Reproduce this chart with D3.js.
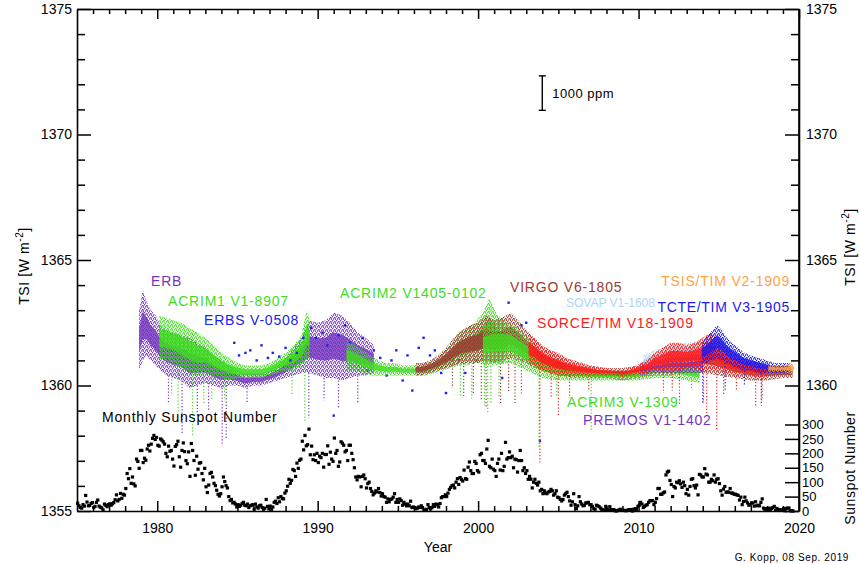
<!DOCTYPE html>
<html><head><meta charset="utf-8">
<script src="https://cdn.jsdelivr.net/npm/d3@7"></script>
<style>
body{margin:0;background:#fff}
svg text{font-family:"Liberation Sans",Arial,Helvetica,sans-serif}
</style>
</head><body>
<svg id="chart" width="859" height="564"></svg>
<script>
// ---------------- DATA ----------------
const xMajorTicks = [1980, 1990, 2000, 2010, 2020];
const yMajorTicks = [1355, 1360, 1365, 1370, 1375];
const yRightTicks = [1360, 1365, 1370, 1375];
const sunspotTicks = [0, 50, 100, 150, 200, 250, 300];

// Nimbus-7 ERB (scatter range, W m-2)
const erbYear = [1978.87,1979.1,1979.3,1979.6,1979.9,1980.2,1980.6,1981.0,1981.5,1982.0,1982.5,1983.0,1983.5,1984.0,1984.5,1985.0,1985.5,1986.0,1986.5,1987.0,1987.5,1988.0,1988.5,1989.0,1989.5,1990.0,1990.5,1991.0,1991.5,1992.0,1992.5,1993.0,1993.5];
const erbLo   = [1360.6,1361.0,1361.2,1361.0,1360.8,1360.6,1360.4,1360.3,1360.2,1359.9,1360.0,1360.1,1360.0,1359.9,1360.0,1360.0,1359.9,1360.0,1360.0,1360.1,1360.2,1360.3,1360.4,1360.5,1360.5,1360.4,1360.3,1360.3,1360.2,1360.3,1360.4,1360.4,1360.5];
const erbHi   = [1363.0,1363.8,1363.4,1363.0,1362.8,1362.4,1362.2,1362.1,1362.0,1361.9,1361.7,1361.5,1361.2,1361.0,1360.8,1360.6,1360.5,1360.5,1360.5,1360.6,1360.8,1361.1,1361.5,1361.9,1362.6,1362.5,1362.6,1362.9,1362.8,1362.5,1362.1,1361.9,1361.6];
const erbDips = [[1980.7,1360.4,1359.3],[1981.55,1360.2,1358.1],[1982.5,1360.0,1358.8],[1983.2,1360.1,1359.0],[1984.05,1359.9,1357.6],[1984.3,1360.0,1357.9],[1985.6,1359.9,1359.3],[1989.45,1360.5,1358.7],[1990.4,1360.3,1359.4],[1991.3,1360.2,1359.1],[1992.5,1360.4,1359.3]];

// ACRIM1
const acrim1Year = [1980.13,1980.5,1981.0,1981.5,1982.0,1982.5,1983.0,1983.5,1984.0,1984.5,1985.0,1985.5,1986.0,1986.5,1987.0,1987.5,1988.0,1988.5,1989.0,1989.3,1989.5];
const acrim1Lo   = [1361.0,1361.0,1360.9,1360.7,1360.5,1360.4,1360.5,1360.4,1360.3,1360.2,1360.3,1360.3,1360.3,1360.3,1360.4,1360.5,1360.6,1360.6,1360.8,1361.0,1361.2];
const acrim1Hi   = [1362.8,1362.7,1362.6,1362.5,1362.3,1362.1,1361.9,1361.6,1361.3,1361.1,1360.9,1360.8,1360.8,1360.8,1360.9,1361.1,1361.3,1361.6,1362.0,1363.0,1362.6];
const acrim1Dips = [[1980.9,1361.0,1359.6],[1981.3,1360.8,1358.9],[1982.2,1360.5,1358.0],[1982.9,1360.5,1359.3],[1983.4,1360.4,1359.4],[1984.2,1360.3,1359.4],[1988.4,1360.6,1359.6],[1989.2,1360.8,1358.6]];

// ERBS (sparse points)
const erbsYear = [1984.8,1985.1,1985.5,1985.8,1986.2,1986.5,1986.9,1987.2,1987.6,1988.0,1988.3,1988.7,1989.1,1989.6,1989.9,1990.3,1990.6,1991.0,1991.3,1991.7,1992.0,1992.4,1992.8,1993.1,1993.5,1993.9,1994.3,1994.6,1994.9,1995.3,1995.6,1995.9,1996.3,1996.6,1997.0,1997.3,1997.7,1998.0,1998.4,1998.8,1999.2,1999.5,1999.9,2000.3,2000.7,2001.2,2001.5,2001.9,2002.3,2002.7,2003.0,2003.4,2003.85];
const erbsTsi  = [1361.7,1361.2,1361.3,1361.4,1361.0,1361.6,1361.1,1361.3,1361.15,1361.5,1361.0,1361.3,1361.9,1362.3,1361.9,1362.1,1361.6,1358.8,1362.0,1362.4,1361.7,1361.0,1361.9,1360.6,1361.4,1361.1,1360.4,1361.0,1361.4,1360.2,1361.2,1359.8,1361.5,1361.9,1361.2,1361.4,1360.5,1359.7,1361.0,1361.0,1360.5,1361.7,1361.0,1361.7,1361.5,1362.1,1360.3,1363.3,1362.1,1362.4,1362.5,1361.5,1357.8];

// ACRIM2
const acrim2Year = [1991.8,1992.3,1992.8,1993.3,1993.8,1994.3,1994.8,1995.3,1995.8,1996.3,1996.8,1997.3,1997.8,1998.3,1998.8,1999.3,1999.8,2000.3,2000.7,2001.2,2001.7];
const acrim2Lo   = [1360.6,1360.6,1360.5,1360.4,1360.4,1360.4,1360.4,1360.4,1360.4,1360.4,1360.4,1360.5,1360.6,1360.7,1360.8,1360.8,1360.9,1360.9,1360.9,1360.9,1360.9];
const acrim2Hi   = [1361.8,1361.6,1361.4,1361.2,1361.0,1360.9,1360.9,1360.8,1360.8,1360.8,1360.9,1361.0,1361.3,1361.6,1362.1,1362.3,1362.5,1362.9,1363.5,1362.8,1362.6];
const acrim2Dips = [[1998.9,1360.8,1359.6],[1999.6,1360.8,1359.4],[2000.4,1360.9,1359.2],[2000.6,1360.9,1358.9],[2000.8,1360.9,1359.3],[2001.3,1360.9,1359.5]];

// VIRGO
const virgoYear = [1996.1,1996.5,1997.0,1997.5,1998.0,1998.5,1999.0,1999.5,2000.0,2000.5,2001.0,2001.5,2002.0,2002.5,2003.0,2003.5,2004.0,2005.0,2006.0,2007.0,2008.0,2009.0,2010.0,2011.0,2012.0,2013.0,2014.0,2015.0,2016.0,2017.0,2018.0,2019.0,2019.6];
const virgoLo   = [1360.4,1360.4,1360.5,1360.6,1360.7,1360.8,1360.9,1360.9,1360.9,1361.0,1360.9,1361.0,1361.1,1361.0,1360.9,1360.7,1360.6,1360.4,1360.3,1360.3,1360.3,1360.2,1360.3,1360.4,1360.4,1360.5,1360.5,1360.4,1360.3,1360.2,1360.2,1360.3,1360.3];
const virgoHi   = [1360.9,1360.9,1361.0,1361.2,1361.5,1361.9,1362.2,1362.4,1362.5,1362.8,1362.6,1362.7,1362.9,1362.6,1362.2,1361.9,1361.5,1361.2,1360.9,1360.8,1360.7,1360.7,1360.8,1361.2,1361.4,1361.5,1361.8,1361.6,1361.1,1360.9,1360.8,1360.7,1360.7];
const virgoDips = [[1998.4,1360.8,1359.9],[1999.1,1360.9,1359.5],[1999.7,1360.9,1359.7],[2000.2,1360.9,1359.4],[2000.5,1361.0,1359.1],[2001.4,1361.0,1359.3],[2001.9,1361.1,1359.7],[2002.3,1361.0,1359.3],[2002.7,1361.0,1359.6]];

// ACRIM3
const acrim3Year = [2000.3,2001.0,2002.0,2003.0,2004.0,2005.0,2006.0,2007.0,2008.0,2009.0,2010.0,2011.0,2012.0,2013.0,2013.8];
const acrim3Lo   = [1360.8,1360.8,1360.9,1360.6,1360.3,1360.2,1360.2,1360.2,1360.2,1360.2,1360.2,1360.3,1360.3,1360.2,1360.1];
const acrim3Hi   = [1362.4,1362.6,1362.5,1362.0,1361.2,1360.9,1360.8,1360.7,1360.6,1360.6,1360.7,1361.0,1361.1,1360.9,1360.8];
const acrim3Dips = [[2003.8,1360.4,1357.5],[2004.9,1360.3,1359.6],[2007.05,1360.2,1358.2],[2013.3,1360.2,1359.9]];

// PREMOS
const premosYear = [2010.1,2011.0,2012.0,2013.0,2014.0];
const premosLo   = [1360.4,1360.5,1360.5,1360.5,1360.5];
const premosHi   = [1360.9,1361.1,1361.3,1361.3,1361.4];

// SOVAP
const sovapYear = [2010.3,2011.0,2012.0,2013.0,2013.9];
const sovapLo   = [1360.7,1360.8,1360.9,1360.9,1361.0];
const sovapHi   = [1361.2,1361.4,1361.6,1361.7,1361.8];

// SORCE/TIM
const sorceYear = [2003.15,2003.5,2004.0,2004.5,2005.0,2005.5,2006.0,2006.5,2007.0,2007.5,2008.0,2008.5,2009.0,2009.5,2010.0,2010.5,2011.0,2011.5,2012.0,2012.5,2013.0,2013.5,2014.0,2014.5,2015.0,2015.5,2016.0,2016.5,2017.0,2017.5,2018.0];
const sorceLo   = [1360.9,1360.8,1360.6,1360.5,1360.4,1360.4,1360.4,1360.4,1360.4,1360.4,1360.4,1360.4,1360.35,1360.4,1360.45,1360.5,1360.6,1360.6,1360.6,1360.6,1360.7,1360.7,1360.6,1360.6,1360.6,1360.5,1360.4,1360.4,1360.4,1360.3,1360.3];
const sorceHi   = [1362.0,1361.9,1361.6,1361.4,1361.3,1361.1,1361.0,1360.9,1360.8,1360.7,1360.7,1360.65,1360.65,1360.7,1360.85,1361.0,1361.3,1361.5,1361.7,1361.7,1361.6,1361.7,1361.9,1362.1,1361.8,1361.5,1361.3,1361.1,1361.0,1360.9,1360.8];
const sorceDips = [[2003.85,1360.8,1356.9],[2004.55,1360.5,1359.5],[2005.0,1360.4,1358.8],[2005.7,1360.4,1359.5],[2006.9,1360.4,1359.8],[2011.55,1360.6,1359.7],[2012.1,1360.6,1359.8],[2012.55,1360.6,1359.2],[2014.05,1360.6,1359.3],[2014.25,1360.6,1358.9],[2014.87,1360.6,1358.2],[2015.3,1360.6,1359.6],[2016.1,1360.4,1359.8],[2017.3,1360.4,1359.2],[2017.7,1360.3,1359.4]];

// TCTE/TIM
const tcteYear = [2013.95,2014.3,2014.6,2014.9,2015.2,2015.5,2015.8,2016.2,2016.6,2017.0,2017.5,2018.0,2018.5,2019.0,2019.5];
const tcteLo   = [1360.9,1360.9,1361.0,1361.1,1361.0,1360.9,1360.8,1360.7,1360.6,1360.6,1360.5,1360.5,1360.5,1360.5,1360.5];
const tcteHi   = [1361.7,1362.0,1362.2,1362.4,1362.2,1361.9,1361.7,1361.5,1361.3,1361.2,1361.1,1361.0,1360.9,1360.9,1360.9];
const tcteDips = [[2014.0,1360.9,1359.3],[2015.4,1360.9,1359.8],[2016.6,1360.6,1360.0],[2017.65,1360.5,1359.2]];

// TSIS/TIM
const tsisYear = [2018.1,2018.5,2019.0,2019.3,2019.55,2019.7];
const tsisLo   = [1360.55,1360.55,1360.55,1360.5,1360.45,1360.62];
const tsisHi   = [1360.85,1360.8,1360.8,1360.85,1360.95,1360.72];

// Monthly sunspot number, Jan 1975 ... Aug 2019
const sunspotMonthly = [
 27,18,12,10,22,17,54,31,18,19,26,29,
 12,16,30,38,17,13,11,4,24,20,15,22,
 25,20,25,29,39,56,35,40,61,44,58,55,
 78,130,112,147,96,118,94,87,180,172,148,210,
 210,168,183,176,215,228,208,232,252,262,248,255,
 228,225,250,246,240,232,200,188,225,207,210,180,
 156,224,230,242,188,152,210,236,206,175,164,205,
 120,234,210,175,124,190,145,166,168,130,108,148,
 84,64,90,130,134,118,96,88,72,58,52,60,
 84,118,102,88,80,50,36,40,28,30,24,14,
 22,16,20,26,30,20,18,24,12,18,20,22,
 6,24,14,10,18,20,12,6,10,40,16,8,
 17,6,14,30,34,26,46,32,50,44,42,62,
 70,86,110,96,106,144,140,120,166,148,176,180,
 242,212,262,226,230,284,195,225,178,195,175,200,
 168,190,185,200,152,196,196,226,162,204,180,172,
 253,200,210,155,170,240,235,228,205,210,175,228,
 228,200,178,150,118,108,120,118,84,120,125,112,
 80,95,100,78,68,56,62,70,66,78,64,52,
 60,50,48,30,42,32,40,42,48,60,30,40,
 30,42,36,20,30,24,18,24,18,34,12,14,
 12,8,10,14,12,18,12,4,2,6,22,12,
 8,12,22,16,24,22,14,26,46,50,50,56,
 50,62,75,82,88,90,80,100,112,92,116,110,
 104,142,112,110,152,170,140,130,130,172,165,140,
 135,195,200,175,175,165,215,245,155,150,180,145,
 140,120,165,180,142,200,140,155,238,180,185,205,
 185,190,150,180,178,135,175,210,175,140,150,130,
 140,110,120,110,80,100,110,96,90,100,70,75,
 60,70,62,60,66,68,75,70,55,60,70,48,
 46,40,35,40,55,60,65,50,35,20,32,60,
 22,8,18,50,32,24,18,20,28,28,30,22,
 22,16,8,6,20,18,15,10,6,2,4,16,
 5,3,15,5,4,5,1,0,2,4,6,2,
 2,2,1,2,4,5,5,0,6,8,6,16,
 20,30,24,12,16,20,22,30,36,36,36,22,
 30,43,78,78,58,58,63,66,125,135,138,106,
 92,50,85,80,100,98,105,94,82,100,88,60,
 75,55,85,110,112,88,80,90,56,127,125,118,
 118,147,128,125,100,100,110,105,125,100,110,112,
 95,70,55,76,85,65,66,65,78,62,62,58,
 58,56,54,38,48,22,33,48,35,28,20,22,
 28,28,17,32,18,20,18,30,42,10,6,8,
 6,10,3,9,12,16,2,9,5,3,4,3,
 8,1,9,10,10,1,1,0
];
const sunspotStartYear = 1975;

// 1000 ppm scale bar (year, centre TSI, length in ppm)
const scaleBar = {year: 2004.0, centre: 1371.65, ppm: 1000};

// ---------------- CHART ----------------
const svg = d3.select('#chart');
const x = d3.scaleLinear().domain([1975, 2020]).range([77, 799]);
const y = d3.scaleLinear().domain([1355, 1375]).range([511, 9]);
const ySN = d3.scaleLinear().domain([0, 300]).range([511, 424.5]);

const COL = {
  purple: '#7434bf', green: '#3fdc1f', blue: '#2020ee', brown: '#9b3a33',
  lightblue: '#a9d6f5', red: '#ff1a1a', orange: '#ffa347', tcte: '#1a1af0'
};

const instruments = [
  {id: 'erb', t: erbYear, lo: erbLo, hi: erbHi, dips: erbDips, c: COL.purple},
  {id: 'acrim1', t: acrim1Year, lo: acrim1Lo, hi: acrim1Hi, dips: acrim1Dips, c: COL.green},
  {id: 'acrim2', t: acrim2Year, lo: acrim2Lo, hi: acrim2Hi, dips: acrim2Dips, c: COL.green},
  {id: 'virgo', t: virgoYear, lo: virgoLo, hi: virgoHi, dips: virgoDips, c: COL.brown},
  {id: 'acrim3', t: acrim3Year, lo: acrim3Lo, hi: acrim3Hi, dips: acrim3Dips, c: COL.green},
  {id: 'premos', t: premosYear, lo: premosLo, hi: premosHi, dips: [], c: COL.purple},
  {id: 'sovap', t: sovapYear, lo: sovapLo, hi: sovapHi, dips: [], c: COL.lightblue},
  {id: 'sorce', t: sorceYear, lo: sorceLo, hi: sorceHi, dips: sorceDips, c: COL.red},
  {id: 'tcte', t: tcteYear, lo: tcteLo, hi: tcteHi, dips: tcteDips, c: COL.tcte},
  {id: 'tsis', t: tsisYear, lo: tsisLo, hi: tsisHi, dips: [], c: COL.orange}
];

// speckle patterns that imitate the dense daily scatter
const defs = svg.append('defs');
const speckle = [[0, 0], [2, 1], [1, 2.2], [3, 3.1], [0.6, 3.6], [3.2, 1.6]];
instruments.forEach((ins, k) => {
  const p = defs.append('pattern').attr('id', 'pat-' + ins.id)
    .attr('patternUnits', 'userSpaceOnUse').attr('width', 4).attr('height', 4)
    .attr('patternTransform', `translate(${k % 4},${(k * 3) % 4})`);
  speckle.forEach(([px, py]) => p.append('rect').attr('x', px).attr('y', py)
    .attr('width', 1.3).attr('height', 1.3).attr('fill', ins.c));
});

const dataG = svg.append('g');
const outerArea = d3.area().x(d => x(d.t)).y0(d => y(d.lo)).y1(d => y(d.hi));
const coreArea = d3.area().x(d => x(d.t))
  .y0(d => y(d.lo + (d.hi - d.lo) * 0.3)).y1(d => y(d.hi - (d.hi - d.lo) * 0.3));

function drawInstrument(ins) {
  const rows = ins.t.map((t, i) => ({t, lo: ins.lo[i], hi: ins.hi[i]}));
  dataG.append('g').selectAll('line').data(ins.dips).join('line')
    .attr('x1', d => x(d[0])).attr('x2', d => x(d[0]))
    .attr('y1', d => y(d[1])).attr('y2', d => y(d[2]))
    .attr('stroke', ins.c).attr('stroke-width', 1.2).attr('stroke-dasharray', '1.2,2');
  dataG.append('path').datum(rows).attr('d', outerArea).attr('fill', `url(#pat-${ins.id})`);
  dataG.append('path').datum(rows).attr('d', coreArea).attr('fill', ins.c).attr('opacity', 0.8);
}

drawInstrument(instruments[0]);
drawInstrument(instruments[1]);
// ERBS sparse dots
dataG.append('g').selectAll('rect').data(erbsYear.map((t, i) => [t, erbsTsi[i]])).join('rect')
  .attr('x', d => x(d[0]) - 1.2).attr('y', d => y(d[1]) - 1.2).attr('width', 2.4).attr('height', 2.4)
  .attr('fill', COL.blue);
instruments.slice(2).forEach(drawInstrument);

// sunspots
svg.append('g').selectAll('rect').data(sunspotMonthly).join('rect')
  .attr('x', (d, i) => x(sunspotStartYear + (i + 0.5) / 12) - 1.6)
  .attr('y', d => ySN(d) - 1.6).attr('width', 3.2).attr('height', 3.2).attr('fill', '#000');

// scale bar
const sbHalf = scaleBar.centre * scaleBar.ppm * 1e-6 / 2;
const sbG = svg.append('g').attr('stroke', '#000').attr('stroke-width', 1.4);
const sbx = x(scaleBar.year);
sbG.append('line').attr('x1', sbx).attr('x2', sbx).attr('y1', y(scaleBar.centre - sbHalf)).attr('y2', y(scaleBar.centre + sbHalf));
[scaleBar.centre - sbHalf, scaleBar.centre + sbHalf].forEach(v =>
  sbG.append('line').attr('x1', sbx - 3.5).attr('x2', sbx + 3.5).attr('y1', y(v)).attr('y2', y(v)));
svg.append('text').attr('x', sbx + 10).attr('y', y(scaleBar.centre) + 5)
  .style('font-size', '13px').style('letter-spacing', '0.5px').text('1000 ppm');

// ---------------- AXES ----------------
const xMinor = d3.range(1976, 2020).filter(v => v % 10 !== 0);
const yMinorL = d3.range(1356, 1375).filter(v => v % 5 !== 0);
const yMinorR = d3.range(1361, 1375).filter(v => v % 5 !== 0);

function style(g, fs) {
  g.selectAll('path.domain').attr('stroke', '#000').attr('stroke-width', 1.6);
  g.selectAll('.tick line').attr('stroke', '#000').attr('stroke-width', 1.5);
  g.selectAll('.tick text').style('font-size', fs).attr('fill', '#000')
    .style('font-family', '"Liberation Sans",Arial,sans-serif');
  g.attr('font-family', null).attr('font-size', null);
}
function noDomain(g) { g.select('path.domain').remove(); }

const gx = svg.append('g').attr('transform', 'translate(0,511)')
  .call(d3.axisBottom(x).tickValues(xMajorTicks).tickSizeInner(-10).tickSizeOuter(0).tickPadding(12).tickFormat(d3.format('d')));
style(gx, '14px');
const gxm = svg.append('g').attr('transform', 'translate(0,511)')
  .call(d3.axisBottom(x).tickValues(xMinor).tickSize(-5).tickFormat(() => ''));
style(gxm, '14px'); noDomain(gxm);

const gt = svg.append('g').attr('transform', 'translate(0,9)')
  .call(d3.axisTop(x).tickValues(xMajorTicks).tickSizeInner(-10).tickSizeOuter(0).tickFormat(() => ''));
style(gt, '14px');
const gtm = svg.append('g').attr('transform', 'translate(0,9)')
  .call(d3.axisTop(x).tickValues(xMinor).tickSize(-5).tickFormat(() => ''));
style(gtm, '14px'); noDomain(gtm);

const gl = svg.append('g').attr('transform', 'translate(77,0)')
  .call(d3.axisLeft(y).tickValues(yMajorTicks).tickSizeInner(-14).tickSizeOuter(0).tickPadding(5).tickFormat(d3.format('d')));
style(gl, '14px');
const glm = svg.append('g').attr('transform', 'translate(77,0)')
  .call(d3.axisLeft(y).tickValues(yMinorL).tickSize(-8).tickFormat(() => ''));
style(glm, '14px'); noDomain(glm);

const gr = svg.append('g').attr('transform', 'translate(799,0)')
  .call(d3.axisRight(y).tickValues(yRightTicks).tickSizeInner(-14).tickSizeOuter(0).tickPadding(7).tickFormat(d3.format('d')));
style(gr, '14px');
const grm = svg.append('g').attr('transform', 'translate(799,0)')
  .call(d3.axisRight(y).tickValues(yMinorR).tickSize(-8).tickFormat(() => ''));
style(grm, '14px'); noDomain(grm);

const gs = svg.append('g').attr('transform', 'translate(799,0)')
  .call(d3.axisRight(ySN).tickValues(sunspotTicks).tickSizeInner(-14).tickSizeOuter(0).tickPadding(3).tickFormat(d3.format('d')));
style(gs, '13px'); noDomain(gs);

svg.append('line').attr('x1', 799).attr('x2', 799).attr('y1', 9).attr('y2', 511)
  .attr('stroke', '#000').attr('stroke-width', 1.6);

// ---------------- TITLES ----------------
function tsiTitle(tx, ty) {
  const t = svg.append('text').attr('transform', `translate(${tx},${ty}) rotate(-90)`)
    .attr('text-anchor', 'middle').style('font-size', '14px').style('letter-spacing', '0.6px');
  t.append('tspan').text('TSI [W m');
  t.append('tspan').attr('dy', -6).style('font-size', '10px').text('-2');
  t.append('tspan').attr('dy', 6).text(']');
}
tsiTitle(29, 266);
tsiTitle(855, 247);
svg.append('text').attr('transform', 'translate(855,468) rotate(-90)').attr('text-anchor', 'middle')
  .style('font-size', '14px').style('letter-spacing', '0.6px').text('Sunspot Number');
svg.append('text').attr('x', 438).attr('y', 552).attr('text-anchor', 'middle')
  .style('font-size', '14px').text('Year');
svg.append('text').attr('x', 849).attr('y', 561).attr('text-anchor', 'end')
  .style('font-size', '10px').style('letter-spacing', '0.6px').text('G. Kopp, 08 Sep. 2019');

// ---------------- INSTRUMENT LABELS (layout) ----------------
const labelLayout = [
  {text: 'ERB', c: COL.purple, px: 151, py: 286, anchor: 'start', fs: 14, ls: 0.8},
  {text: 'ACRIM1 V1-8907', c: COL.green, px: 168, py: 306, anchor: 'start', fs: 14, ls: 0.8},
  {text: 'ERBS V-0508', c: COL.blue, px: 204, py: 325, anchor: 'start', fs: 14, ls: 0.8},
  {text: 'ACRIM2 V1405-0102', c: COL.green, px: 340, py: 298, anchor: 'start', fs: 14, ls: 0.8},
  {text: 'VIRGO V6-1805', c: COL.brown, px: 510, py: 292, anchor: 'start', fs: 14, ls: 0.8},
  {text: 'SOVAP V1-1608', c: COL.lightblue, px: 566, py: 306.5, anchor: 'start', fs: 12, ls: 0},
  {text: 'SORCE/TIM V18-1909', c: COL.red, px: 537, py: 328, anchor: 'start', fs: 14, ls: 0.8},
  {text: 'TSIS/TIM V2-1909', c: COL.orange, px: 790, py: 286, anchor: 'end', fs: 14, ls: 0.8},
  {text: 'TCTE/TIM V3-1905', c: COL.tcte, px: 790, py: 312, anchor: 'end', fs: 14, ls: 0.7},
  {text: 'ACRIM3 V-1309', c: COL.green, px: 567, py: 407, anchor: 'start', fs: 14, ls: 0.8},
  {text: 'PREMOS V1-1402', c: COL.purple, px: 583, py: 425, anchor: 'start', fs: 14, ls: 0.8},
  {text: 'Monthly Sunspot Number', c: '#000', px: 102, py: 422, anchor: 'start', fs: 14, ls: 0.8}
];
svg.append('g').selectAll('text').data(labelLayout).join('text')
  .attr('x', d => d.px).attr('y', d => d.py).attr('text-anchor', d => d.anchor)
  .attr('fill', d => d.c).style('font-size', d => d.fs + 'px').style('letter-spacing', d => d.ls + 'px')
  .text(d => d.text);
</script>
</body></html>
